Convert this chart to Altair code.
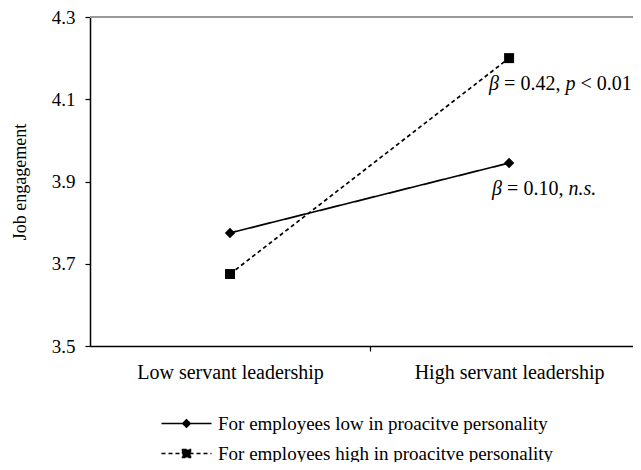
import altair as alt
import pandas as pd

# ---- data ----
levels = ["Low servant leadership", "High servant leadership"]
level_pos = [0, 1]
series = ["For employees low in proacitve personality",
          "For employees high in proacitve personality"]
low_pro_vals = [3.775, 3.945]
high_pro_vals = [3.675, 4.20]
y_ticks = [3.5, 3.7, 3.9, 4.1, 4.3]
annot_high = ["β", "= 0.42,", "p", "< 0.01"]
annot_low = ["β", "= 0.10,", "n.s."]

rows = []
for s, vals in zip(series, [low_pro_vals, high_pro_vals]):
    for p, lv, v in zip(level_pos, levels, vals):
        rows.append({"xpos": p, "level": lv, "series": s, "value": v, "legend_key": s})
df = pd.DataFrame(rows)

FONT = "Liberation Serif"

label_expr = "datum.value == 0 ? '%s' : datum.value == 1 ? '%s' : ''" % (levels[0], levels[1])

x_enc = alt.X(
    "xpos:Q",
    scale=alt.Scale(domain=[-0.5018, 1.444], nice=False, zero=False),
    axis=alt.Axis(
        values=[0, 0.5, 1], labelExpr=label_expr, title=None, grid=False,
        domainColor="black", domainWidth=1.5, tickColor="black", tickWidth=1.2,
        tickSize=5,
        tickOpacity={"condition": {"test": "datum.value == 0.5", "value": 1}, "value": 0},
        labelFont=FONT, labelFontSize=20, labelColor="black", labelPadding=11,
        labelOverlap=False, labelBound=False, labelFlush=False, labelLimit=0,
    ),
)
y_enc = alt.Y(
    "value:Q",
    scale=alt.Scale(domain=[3.5, 4.3], nice=False, zero=False),
    axis=alt.Axis(
        values=y_ticks, format=".1f", title="Job engagement", grid=False,
        domainColor="black", domainWidth=1.5, tickColor="black", tickWidth=1.2,
        tickSize=5, labelFont=FONT, labelFontSize=19, labelColor="black",
        labelPadding=10, titleFont=FONT, titleFontSize=18, titleFontWeight="normal",
        titleColor="black", titlePadding=22, labelOverlap=False,
    ),
)

base = alt.Chart(df)

top_rule = base.mark_rule(color="#999999", strokeWidth=1.5).encode(y=alt.datum(4.3))

lines = base.mark_line(color="black", strokeWidth=1.7).encode(
    x=x_enc, y=y_enc,
    strokeDash=alt.StrokeDash("series:N", scale=alt.Scale(domain=series, range=[[1, 0], [4, 3]]), legend=None),
)

points = base.mark_point(filled=True, color="black", opacity=1).encode(
    x=x_enc, y=y_enc,
    shape=alt.Shape("series:N", scale=alt.Scale(domain=series, range=["diamond", "square"]), legend=None),
    size=alt.Size("series:N", scale=alt.Scale(domain=series, range=[110, 100]), legend=None),
)

diamond_path = "M-5,0L5,0M0,-0.75L0.75,0L0,0.75L-0.75,0Z"
square_path = "M-5,0L5,0M-0.8,-0.8L0.8,-0.8L0.8,0.8L-0.8,0.8Z"
leg = alt.Legend(
    title=None, orient="none", legendX=87, legendY=397, direction="vertical",
    labelFont=FONT, labelFontSize=19, labelColor="black", labelLimit=0,
    symbolSize=100, symbolStrokeWidth=1.5,
    labelOffset=22, rowPadding=10, padding=0,
)
legend_layer = base.transform_filter("datum.xpos > 5").mark_point(
    filled=False, fill="black", stroke="black", strokeWidth=1.5, size=100, opacity=1
).encode(
    x=x_enc, y=y_enc,
    shape=alt.Shape("legend_key:N", scale=alt.Scale(domain=series, range=[diamond_path, square_path]), legend=leg),
    strokeDash=alt.StrokeDash("legend_key:N", scale=alt.Scale(domain=series, range=[[1, 0], [4, 3]]), legend=leg),
)

def annot(ser, pieces, offsets, styles, dx0, dy):
    layers = []
    for t, off, st in zip(pieces, offsets, styles):
        layers.append(
            base.transform_filter((alt.datum.series == ser) & (alt.datum.xpos == 1))
            .mark_text(align="left", baseline="middle", font=FONT, fontSize=20,
                       fontStyle=st, color="black", dx=dx0 + off, dy=dy)
            .encode(x=x_enc, y=y_enc, text=alt.value(t))
        )
    return layers

f = 20
ann1 = annot(series[1], annot_high, [0, 0.75 * f, 3.814 * f, 4.564 * f],
             ["italic", "normal", "italic", "normal"], -20, 26)
ann2 = annot(series[0], annot_low, [0, 0.75 * f, 3.814 * f],
             ["italic", "normal", "italic"], -17, 26.5)

chart = alt.layer(top_rule, lines, points, legend_layer, *ann1, *ann2).resolve_scale(
    shape="independent", strokeDash="independent", size="independent"
).properties(
    width=543, height=329,
    autosize=alt.AutoSizeParams(type="none"),
    padding={"left": 82, "top": 9, "right": 0, "bottom": 116},
    background="white",
).configure_view(stroke=None)

chart.save("out.html", embed_options={"renderer": "svg", "actions": False})
